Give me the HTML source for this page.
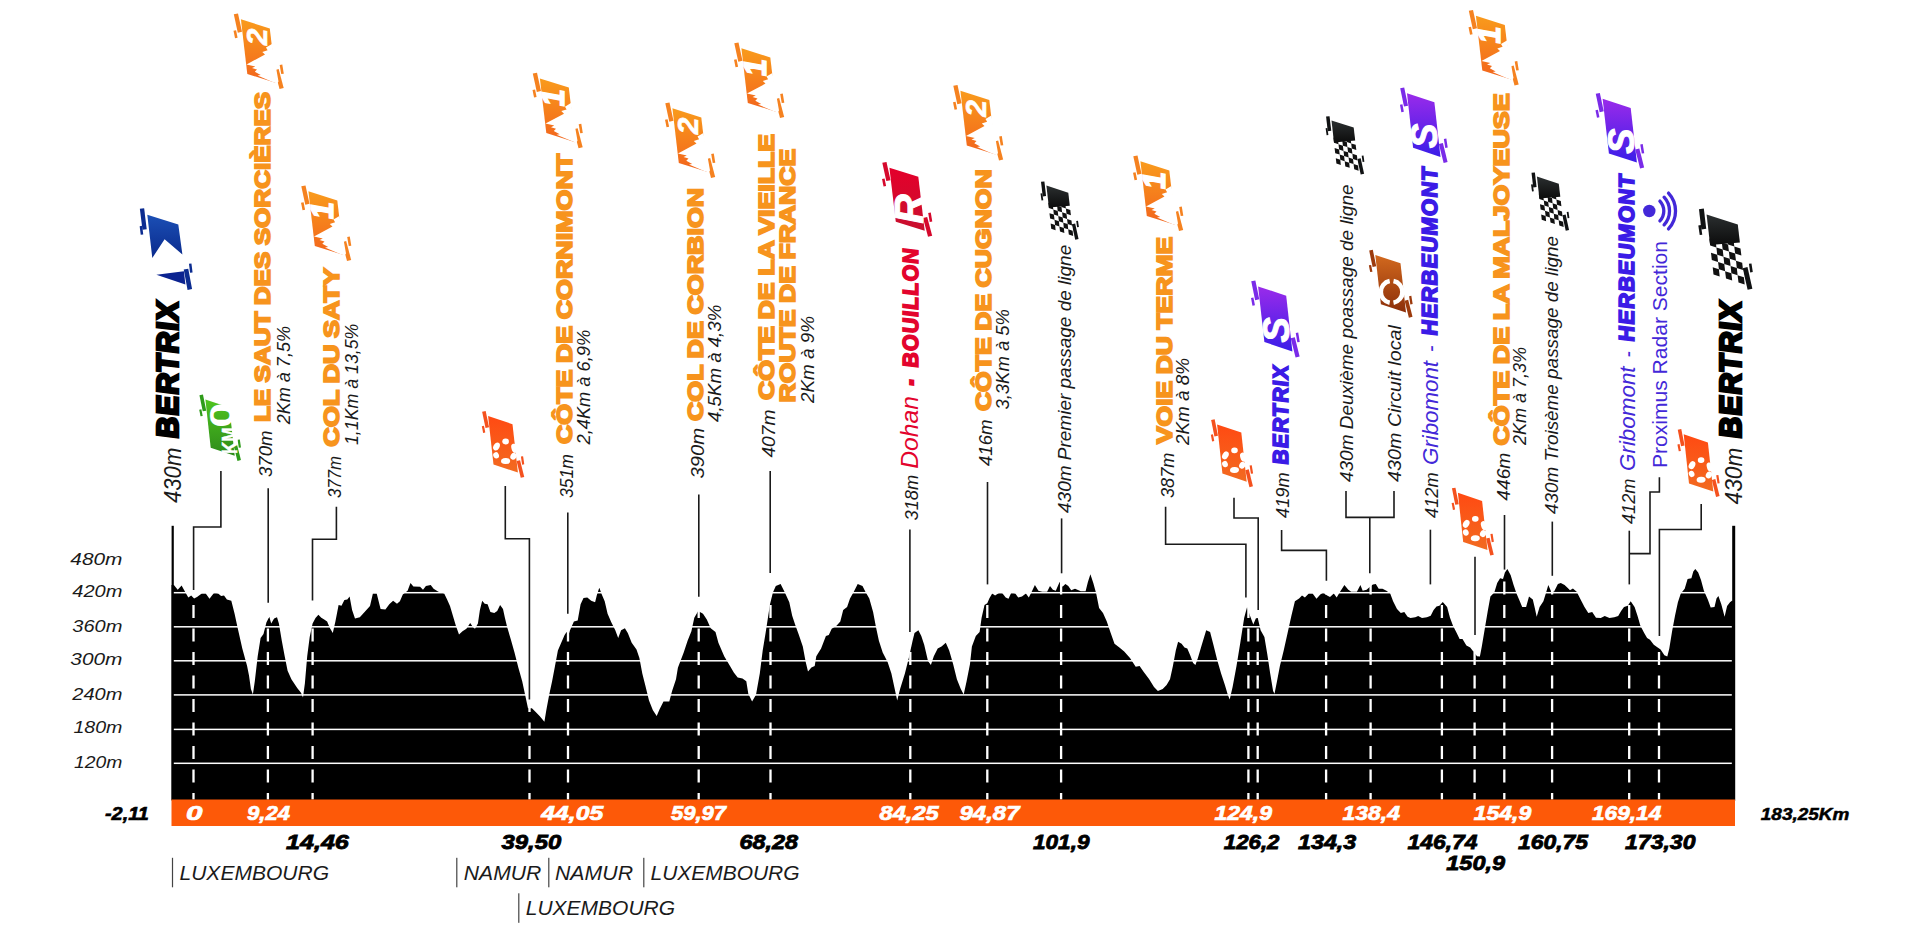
<!DOCTYPE html>
<html lang="fr"><head><meta charset="utf-8"><title>Profil - Bertrix / Bertrix 183,25 Km</title>
<style>html,body{margin:0;padding:0;background:#fff}body{width:1920px;height:934px;overflow:hidden}svg{display:block}text{font-family:'Liberation Sans','DejaVu Sans',sans-serif}</style>
</head><body>
<svg width="1920" height="934" viewBox="0 0 1920 934">
<defs>
<linearGradient id="gO" x1="0" y1="0" x2="0" y2="1"><stop offset="0" stop-color="#F99B1C"/><stop offset="1" stop-color="#F2641C"/></linearGradient>
<linearGradient id="gF" x1="0" y1="0" x2="0" y2="1"><stop offset="0" stop-color="#FF4A12"/><stop offset="1" stop-color="#F26B21"/></linearGradient>
<linearGradient id="gS" x1="0" y1="0" x2="0" y2="1"><stop offset="0" stop-color="#9A2BEA"/><stop offset="1" stop-color="#3A1DE8"/></linearGradient>
<linearGradient id="gR" x1="0" y1="0" x2="0" y2="1"><stop offset="0" stop-color="#E4002B"/><stop offset="1" stop-color="#C8102E"/></linearGradient>
<linearGradient id="gK" x1="0" y1="0" x2="0" y2="1"><stop offset="0" stop-color="#4FC41F"/><stop offset="1" stop-color="#2E8B1A"/></linearGradient>
<linearGradient id="gB" x1="0" y1="0" x2="0" y2="1"><stop offset="0" stop-color="#1B4FB5"/><stop offset="1" stop-color="#0A2A8C"/></linearGradient>
<linearGradient id="gC" x1="0" y1="0" x2="0" y2="1"><stop offset="0" stop-color="#D2691E"/><stop offset="1" stop-color="#8B2E0A"/></linearGradient>
<linearGradient id="gD" x1="0" y1="0" x2="0" y2="1"><stop offset="0" stop-color="#2b2f30"/><stop offset="1" stop-color="#0c0c0c"/></linearGradient>
</defs>
<path d="M171.5 800.0 L171.5 584.9 L173.9 584.9 L177.7 589.7 L181.6 585.5 L184.5 590.7 L188.3 597.4 L191.2 595.5 L194.1 598.4 L197.0 596.9 L201.8 593.6 L205.7 593.6 L209.5 598.8 L214.3 592.6 L218.2 593.6 L221.1 596.1 L224.0 595.5 L226.9 599.4 L231.3 600.7 L234.6 613.8 L237.5 627.3 L242.3 648.5 L247.1 665.9 L249.0 675.5 L250.9 689.0 L252.9 694.4 L254.8 681.3 L257.7 656.2 L260.6 637.9 L263.5 634.1 L266.4 622.5 L269.3 616.7 L271.2 623.5 L274.1 618.6 L277.0 617.3 L278.9 623.5 L281.8 640.8 L284.7 656.2 L287.6 670.7 L291.4 679.3 L297.2 688.0 L301.0 692.8 L303.0 697.6 L304.9 683.2 L307.2 656.2 L309.7 636.9 L312.6 623.5 L315.5 618.1 L318.4 614.8 L321.3 617.7 L324.2 619.6 L327.1 621.5 L330.0 628.3 L332.8 633.1 L335.4 621.5 L338.6 605.1 L341.5 605.7 L344.4 599.9 L347.3 599.4 L349.6 596.5 L352.1 610.0 L355.0 618.6 L359.8 617.3 L364.6 611.9 L370.0 606.1 L372.9 593.6 L376.7 593.6 L380.6 609.0 L385.4 609.6 L389.3 604.2 L393.1 600.7 L397.0 603.8 L399.9 601.3 L402.8 594.5 L407.6 590.7 L410.5 583.0 L413.4 586.4 L420.1 586.8 L423.0 589.7 L425.9 585.9 L430.7 584.9 L433.6 588.8 L438.4 591.7 L444.2 593.6 L447.1 599.4 L450.0 606.1 L452.9 615.7 L455.8 625.4 L459.0 634.6 L462.5 631.2 L466.4 628.8 L470.2 623.1 L473.1 627.3 L475.0 628.8 L477.9 623.5 L479.9 610.0 L482.2 600.7 L484.7 603.8 L487.6 604.2 L490.4 611.9 L494.3 612.9 L497.2 610.9 L500.1 605.1 L503.0 609.0 L504.9 617.7 L507.2 627.3 L510.7 638.9 L514.5 652.4 L518.4 667.8 L522.2 681.3 L525.1 694.8 L528.0 708.2 L531.9 708.2 L535.7 712.1 L539.6 716.0 L544.4 721.7 L546.3 710.2 L549.2 694.8 L552.1 681.3 L555.0 665.9 L557.9 650.4 L560.8 643.7 L564.6 635.0 L566.6 632.1 L568.5 635.0 L570.0 630.2 L573.9 621.5 L577.7 620.6 L580.6 604.2 L583.5 598.0 L587.3 597.4 L591.2 600.7 L595.1 602.3 L597.0 594.5 L599.3 587.8 L601.8 594.5 L604.7 601.3 L607.6 613.8 L611.4 622.5 L615.3 630.2 L618.2 637.9 L621.1 630.2 L624.9 628.3 L627.8 633.1 L631.7 642.7 L636.5 649.5 L639.4 658.1 L642.3 673.6 L645.2 685.1 L649.0 700.5 L652.9 710.2 L656.7 716.0 L659.6 709.2 L663.5 701.5 L669.3 701.5 L672.1 690.9 L676.0 679.3 L677.9 667.8 L683.7 652.4 L687.6 640.8 L691.4 631.2 L694.3 617.7 L698.2 610.9 L703.0 613.8 L706.8 619.6 L710.7 628.3 L715.5 632.1 L718.4 642.7 L724.2 656.2 L730.0 665.9 L733.8 672.6 L737.7 677.4 L742.5 678.4 L746.3 681.3 L748.3 693.8 L752.1 701.5 L756.0 694.8 L759.8 673.6 L762.7 650.4 L765.6 633.1 L770.0 604.2 L772.9 592.6 L775.8 585.9 L780.6 583.9 L784.5 591.7 L789.3 602.3 L792.2 615.7 L795.1 624.4 L798.9 635.0 L802.8 646.6 L805.7 662.0 L808.0 671.6 L811.4 667.4 L814.7 665.9 L816.3 656.2 L821.1 648.5 L825.9 636.0 L828.8 635.0 L831.7 628.8 L836.5 625.8 L840.3 621.5 L843.2 610.0 L847.1 607.1 L850.0 598.4 L853.8 591.7 L857.7 583.9 L862.5 585.9 L865.4 591.7 L869.3 598.4 L873.1 611.9 L876.0 627.3 L878.9 640.8 L882.7 652.4 L887.6 662.0 L891.4 673.6 L894.3 687.0 L897.2 700.5 L900.1 689.0 L904.9 673.6 L908.8 658.1 L912.6 640.8 L914.5 633.1 L918.4 630.2 L921.3 636.0 L924.2 644.7 L928.0 661.0 L930.9 664.9 L933.8 656.2 L937.7 648.5 L941.5 646.6 L945.8 642.7 L949.2 650.4 L953.1 663.9 L956.9 679.3 L960.8 689.0 L963.7 694.4 L966.6 681.3 L970.0 663.9 L971.9 646.6 L975.8 636.0 L979.6 632.1 L981.6 617.7 L984.5 605.1 L987.3 603.2 L989.3 598.4 L992.2 593.6 L995.1 595.5 L998.9 593.0 L1001.8 592.6 L1005.7 597.4 L1008.5 598.8 L1011.4 592.6 L1015.3 593.6 L1018.2 597.4 L1022.0 596.5 L1025.9 593.6 L1028.8 597.4 L1031.7 591.7 L1034.9 584.9 L1038.4 590.7 L1042.3 591.7 L1047.1 591.7 L1050.0 585.9 L1052.9 589.7 L1055.8 590.7 L1059.6 582.0 L1062.5 586.8 L1065.4 583.9 L1068.3 585.9 L1071.2 590.3 L1075.0 588.8 L1080.8 591.3 L1085.6 591.3 L1087.9 582.0 L1090.4 574.3 L1093.3 583.0 L1096.2 593.6 L1099.1 608.0 L1103.0 612.9 L1106.8 621.5 L1110.7 633.1 L1114.5 643.7 L1119.4 647.5 L1124.2 651.4 L1130.0 658.1 L1135.7 666.8 L1139.6 665.9 L1143.4 671.6 L1149.2 679.3 L1154.0 687.0 L1157.9 690.9 L1162.7 689.0 L1166.6 685.1 L1170.0 679.3 L1172.9 665.9 L1175.8 650.4 L1178.1 641.8 L1181.6 643.7 L1184.5 647.5 L1187.3 648.5 L1190.2 655.3 L1193.1 663.0 L1195.4 664.9 L1197.9 658.1 L1201.8 644.7 L1206.2 630.2 L1210.1 632.1 L1213.4 644.7 L1217.2 660.1 L1221.1 673.6 L1224.9 685.1 L1227.8 694.8 L1229.7 699.6 L1232.6 687.0 L1236.5 665.9 L1240.3 642.7 L1244.2 617.7 L1247.1 607.1 L1250.0 615.7 L1253.3 624.4 L1255.8 618.6 L1257.7 617.7 L1260.6 630.2 L1264.4 636.9 L1267.3 654.3 L1270.2 673.6 L1273.1 690.9 L1274.5 693.8 L1277.0 681.3 L1279.9 665.9 L1283.7 650.4 L1287.6 633.1 L1291.4 615.7 L1294.9 601.3 L1299.1 598.4 L1302.0 595.5 L1304.9 597.4 L1308.8 593.6 L1312.6 593.6 L1316.5 598.8 L1320.3 594.5 L1323.2 592.6 L1327.1 595.5 L1330.0 596.9 L1333.8 593.6 L1336.7 597.4 L1339.6 592.6 L1344.4 584.9 L1348.3 589.7 L1351.2 591.7 L1356.9 591.7 L1360.4 584.9 L1362.7 590.7 L1366.6 589.7 L1370.0 586.8 L1372.9 584.5 L1375.8 583.9 L1378.7 588.8 L1382.5 588.8 L1386.4 590.7 L1390.2 593.6 L1393.1 601.3 L1397.0 609.0 L1400.8 612.9 L1404.3 611.9 L1407.6 616.7 L1410.5 618.1 L1415.3 617.3 L1418.2 616.1 L1422.0 618.1 L1426.9 617.3 L1430.7 615.7 L1433.6 610.0 L1436.5 606.5 L1439.4 605.7 L1442.8 601.9 L1447.1 607.1 L1450.0 617.7 L1452.9 625.4 L1456.7 633.1 L1459.6 638.9 L1462.5 638.9 L1466.4 645.6 L1470.2 647.5 L1474.1 652.4 L1477.0 656.2 L1479.9 656.6 L1481.8 646.6 L1484.7 629.2 L1487.6 611.9 L1490.4 596.5 L1494.3 592.6 L1497.2 583.0 L1500.1 578.2 L1503.0 579.1 L1504.9 572.4 L1507.4 569.1 L1510.7 575.3 L1513.6 584.9 L1516.5 593.6 L1519.4 600.3 L1522.2 607.1 L1526.1 607.1 L1529.0 596.5 L1532.8 599.4 L1534.8 608.0 L1536.7 616.7 L1539.6 607.1 L1543.4 601.3 L1545.8 593.6 L1548.3 584.9 L1550.8 590.7 L1554.0 591.7 L1557.9 583.9 L1560.8 583.0 L1564.6 584.9 L1567.5 587.8 L1570.0 590.3 L1572.9 588.4 L1576.7 591.7 L1580.6 599.4 L1584.5 607.1 L1588.3 612.9 L1592.2 611.9 L1596.0 617.7 L1600.8 618.1 L1604.7 616.1 L1609.5 618.1 L1614.3 617.3 L1618.2 616.1 L1621.1 610.9 L1624.0 607.1 L1627.8 605.7 L1630.7 601.3 L1634.6 607.1 L1637.5 615.7 L1640.3 625.4 L1644.2 633.1 L1647.1 637.9 L1650.0 639.8 L1653.8 644.7 L1657.7 647.5 L1660.6 649.5 L1664.4 655.3 L1667.3 656.6 L1669.3 648.5 L1672.1 631.2 L1675.0 615.7 L1677.9 602.3 L1680.8 593.6 L1684.7 588.8 L1687.6 579.1 L1691.4 578.2 L1693.3 571.4 L1695.3 569.1 L1698.2 572.4 L1701.0 580.1 L1703.9 590.7 L1707.8 599.4 L1710.7 607.6 L1714.5 607.1 L1716.5 598.4 L1718.4 596.1 L1721.3 604.2 L1724.6 616.7 L1727.1 606.1 L1730.0 602.3 L1731.9 600.7 L1735.0 600.7 L1735.0 800.0 Z" fill="#000"/>
<rect x="171.6" y="525.8" width="2.2" height="275" fill="#000"/>
<rect x="1732.2" y="525.8" width="3.0" height="275" fill="#000"/>
<rect x="173.8" y="591.95" width="1558.0" height="1.5" fill="#fff"/>
<rect x="173.8" y="626.05" width="1558.0" height="1.5" fill="#fff"/>
<rect x="173.8" y="660.05" width="1558.0" height="1.5" fill="#fff"/>
<rect x="173.8" y="694.15" width="1558.0" height="1.5" fill="#fff"/>
<rect x="173.8" y="728.65" width="1558.0" height="1.5" fill="#fff"/>
<rect x="173.8" y="762.55" width="1558.0" height="1.5" fill="#fff"/>
<path d="M193.5 799.5 L193.5 560" stroke="#fff" stroke-width="2.3" stroke-dasharray="13 10.5" stroke-dashoffset="6.5" fill="none"/>
<path d="M267.9 799.5 L267.9 560" stroke="#fff" stroke-width="2.3" stroke-dasharray="13 10.5" stroke-dashoffset="6.5" fill="none"/>
<path d="M312.6 799.5 L312.6 560" stroke="#fff" stroke-width="2.3" stroke-dasharray="13 10.5" stroke-dashoffset="6.5" fill="none"/>
<path d="M529.5 799.5 L529.5 560" stroke="#fff" stroke-width="2.3" stroke-dasharray="13 10.5" stroke-dashoffset="6.5" fill="none"/>
<path d="M568.0 799.5 L568.0 560" stroke="#fff" stroke-width="2.3" stroke-dasharray="13 10.5" stroke-dashoffset="6.5" fill="none"/>
<path d="M698.7 799.5 L698.7 560" stroke="#fff" stroke-width="2.3" stroke-dasharray="13 10.5" stroke-dashoffset="6.5" fill="none"/>
<path d="M770.5 799.5 L770.5 560" stroke="#fff" stroke-width="2.3" stroke-dasharray="13 10.5" stroke-dashoffset="6.5" fill="none"/>
<path d="M910.3 799.5 L910.3 560" stroke="#fff" stroke-width="2.3" stroke-dasharray="13 10.5" stroke-dashoffset="6.5" fill="none"/>
<path d="M987.3 799.5 L987.3 560" stroke="#fff" stroke-width="2.3" stroke-dasharray="13 10.5" stroke-dashoffset="6.5" fill="none"/>
<path d="M1061.1 799.5 L1061.1 560" stroke="#fff" stroke-width="2.3" stroke-dasharray="13 10.5" stroke-dashoffset="6.5" fill="none"/>
<path d="M1248.4 799.5 L1248.4 560" stroke="#fff" stroke-width="2.3" stroke-dasharray="13 10.5" stroke-dashoffset="6.5" fill="none"/>
<path d="M1257.7 799.5 L1257.7 560" stroke="#fff" stroke-width="2.3" stroke-dasharray="13 10.5" stroke-dashoffset="6.5" fill="none"/>
<path d="M1326.1 799.5 L1326.1 560" stroke="#fff" stroke-width="2.3" stroke-dasharray="13 10.5" stroke-dashoffset="6.5" fill="none"/>
<path d="M1370.6 799.5 L1370.6 560" stroke="#fff" stroke-width="2.3" stroke-dasharray="13 10.5" stroke-dashoffset="6.5" fill="none"/>
<path d="M1441.9 799.5 L1441.9 560" stroke="#fff" stroke-width="2.3" stroke-dasharray="13 10.5" stroke-dashoffset="6.5" fill="none"/>
<path d="M1474.6 799.5 L1474.6 560" stroke="#fff" stroke-width="2.3" stroke-dasharray="13 10.5" stroke-dashoffset="6.5" fill="none"/>
<path d="M1504.3 799.5 L1504.3 560" stroke="#fff" stroke-width="2.3" stroke-dasharray="13 10.5" stroke-dashoffset="6.5" fill="none"/>
<path d="M1552.1 799.5 L1552.1 560" stroke="#fff" stroke-width="2.3" stroke-dasharray="13 10.5" stroke-dashoffset="6.5" fill="none"/>
<path d="M1629.2 799.5 L1629.2 560" stroke="#fff" stroke-width="2.3" stroke-dasharray="13 10.5" stroke-dashoffset="6.5" fill="none"/>
<path d="M1659.0 799.5 L1659.0 560" stroke="#fff" stroke-width="2.3" stroke-dasharray="13 10.5" stroke-dashoffset="6.5" fill="none"/>
<rect x="171.5" y="799.5" width="1563.5" height="26.5" fill="#FD5908"/>
<text x="70.3" y="565.2" font-size="17.3" font-weight="normal" font-style="italic" fill="#1a1a1a" textLength="52.1" lengthAdjust="spacingAndGlyphs">480m</text>
<text x="72.3" y="597.2" font-size="17.3" font-weight="normal" font-style="italic" fill="#1a1a1a" textLength="50.1" lengthAdjust="spacingAndGlyphs">420m</text>
<text x="72.3" y="631.7" font-size="17.3" font-weight="normal" font-style="italic" fill="#1a1a1a" textLength="50.1" lengthAdjust="spacingAndGlyphs">360m</text>
<text x="70.3" y="665.4" font-size="17.3" font-weight="normal" font-style="italic" fill="#1a1a1a" textLength="52.1" lengthAdjust="spacingAndGlyphs">300m</text>
<text x="72.3" y="700.0" font-size="17.3" font-weight="normal" font-style="italic" fill="#1a1a1a" textLength="50.1" lengthAdjust="spacingAndGlyphs">240m</text>
<text x="73.4" y="733.2" font-size="17.3" font-weight="normal" font-style="italic" fill="#1a1a1a" textLength="49.0" lengthAdjust="spacingAndGlyphs">180m</text>
<text x="74.1" y="767.6" font-size="17.3" font-weight="normal" font-style="italic" fill="#1a1a1a" textLength="48.3" lengthAdjust="spacingAndGlyphs">120m</text>
<text x="186.0" y="820.3" font-size="19.5" font-weight="bold" font-style="italic" fill="#fff" stroke="#fff" stroke-width="0.7" stroke-linejoin="miter" stroke-miterlimit="2.5" textLength="16.5" lengthAdjust="spacingAndGlyphs">0</text>
<text x="247.0" y="820.3" font-size="19.5" font-weight="bold" font-style="italic" fill="#fff" stroke="#fff" stroke-width="0.7" stroke-linejoin="miter" stroke-miterlimit="2.5" textLength="43.0" lengthAdjust="spacingAndGlyphs">9,24</text>
<text x="541.3" y="820.3" font-size="19.5" font-weight="bold" font-style="italic" fill="#fff" stroke="#fff" stroke-width="0.7" stroke-linejoin="miter" stroke-miterlimit="2.5" textLength="62.0" lengthAdjust="spacingAndGlyphs">44,05</text>
<text x="671.0" y="820.3" font-size="19.5" font-weight="bold" font-style="italic" fill="#fff" stroke="#fff" stroke-width="0.7" stroke-linejoin="miter" stroke-miterlimit="2.5" textLength="55.0" lengthAdjust="spacingAndGlyphs">59,97</text>
<text x="879.5" y="820.3" font-size="19.5" font-weight="bold" font-style="italic" fill="#fff" stroke="#fff" stroke-width="0.7" stroke-linejoin="miter" stroke-miterlimit="2.5" textLength="59.3" lengthAdjust="spacingAndGlyphs">84,25</text>
<text x="959.5" y="820.3" font-size="19.5" font-weight="bold" font-style="italic" fill="#fff" stroke="#fff" stroke-width="0.7" stroke-linejoin="miter" stroke-miterlimit="2.5" textLength="60.0" lengthAdjust="spacingAndGlyphs">94,87</text>
<text x="1214.5" y="820.3" font-size="19.5" font-weight="bold" font-style="italic" fill="#fff" stroke="#fff" stroke-width="0.7" stroke-linejoin="miter" stroke-miterlimit="2.5" textLength="57.5" lengthAdjust="spacingAndGlyphs">124,9</text>
<text x="1342.5" y="820.3" font-size="19.5" font-weight="bold" font-style="italic" fill="#fff" stroke="#fff" stroke-width="0.7" stroke-linejoin="miter" stroke-miterlimit="2.5" textLength="57.5" lengthAdjust="spacingAndGlyphs">138,4</text>
<text x="1473.8" y="820.3" font-size="19.5" font-weight="bold" font-style="italic" fill="#fff" stroke="#fff" stroke-width="0.7" stroke-linejoin="miter" stroke-miterlimit="2.5" textLength="57.5" lengthAdjust="spacingAndGlyphs">154,9</text>
<text x="1592.0" y="820.3" font-size="19.5" font-weight="bold" font-style="italic" fill="#fff" stroke="#fff" stroke-width="0.7" stroke-linejoin="miter" stroke-miterlimit="2.5" textLength="69.3" lengthAdjust="spacingAndGlyphs">169,14</text>
<text x="286.0" y="849.3" font-size="20" font-weight="bold" font-style="italic" fill="#000" stroke="#000" stroke-width="0.8" stroke-linejoin="miter" stroke-miterlimit="2.5" textLength="62.8" lengthAdjust="spacingAndGlyphs">14,46</text>
<text x="501.5" y="849.3" font-size="20" font-weight="bold" font-style="italic" fill="#000" stroke="#000" stroke-width="0.8" stroke-linejoin="miter" stroke-miterlimit="2.5" textLength="59.8" lengthAdjust="spacingAndGlyphs">39,50</text>
<text x="739.5" y="849.3" font-size="20" font-weight="bold" font-style="italic" fill="#000" stroke="#000" stroke-width="0.8" stroke-linejoin="miter" stroke-miterlimit="2.5" textLength="58.5" lengthAdjust="spacingAndGlyphs">68,28</text>
<text x="1033.0" y="849.3" font-size="20" font-weight="bold" font-style="italic" fill="#000" stroke="#000" stroke-width="0.8" stroke-linejoin="miter" stroke-miterlimit="2.5" textLength="56.5" lengthAdjust="spacingAndGlyphs">101,9</text>
<text x="1223.8" y="849.3" font-size="20" font-weight="bold" font-style="italic" fill="#000" stroke="#000" stroke-width="0.8" stroke-linejoin="miter" stroke-miterlimit="2.5" textLength="55.7" lengthAdjust="spacingAndGlyphs">126,2</text>
<text x="1298.0" y="849.3" font-size="20" font-weight="bold" font-style="italic" fill="#000" stroke="#000" stroke-width="0.8" stroke-linejoin="miter" stroke-miterlimit="2.5" textLength="58.3" lengthAdjust="spacingAndGlyphs">134,3</text>
<text x="1407.5" y="849.3" font-size="20" font-weight="bold" font-style="italic" fill="#000" stroke="#000" stroke-width="0.8" stroke-linejoin="miter" stroke-miterlimit="2.5" textLength="70.0" lengthAdjust="spacingAndGlyphs">146,74</text>
<text x="1518.0" y="849.3" font-size="20" font-weight="bold" font-style="italic" fill="#000" stroke="#000" stroke-width="0.8" stroke-linejoin="miter" stroke-miterlimit="2.5" textLength="70.0" lengthAdjust="spacingAndGlyphs">160,75</text>
<text x="1625.0" y="849.3" font-size="20" font-weight="bold" font-style="italic" fill="#000" stroke="#000" stroke-width="0.8" stroke-linejoin="miter" stroke-miterlimit="2.5" textLength="70.5" lengthAdjust="spacingAndGlyphs">173,30</text>
<text x="1446.3" y="869.6" font-size="20" font-weight="bold" font-style="italic" fill="#000" stroke="#000" stroke-width="0.8" stroke-linejoin="miter" stroke-miterlimit="2.5" textLength="58.7" lengthAdjust="spacingAndGlyphs">150,9</text>
<text x="105.0" y="820.4" font-size="18" font-weight="bold" font-style="italic" fill="#000" stroke="#000" stroke-width="0.6" stroke-linejoin="miter" stroke-miterlimit="2.5" textLength="43.8" lengthAdjust="spacingAndGlyphs">-2,11</text>
<text x="1760.8" y="820.0" font-size="17" font-weight="bold" font-style="italic" fill="#000" stroke="#000" stroke-width="0.5" stroke-linejoin="miter" stroke-miterlimit="2.5" textLength="88.5" lengthAdjust="spacingAndGlyphs">183,25Km</text>
<rect x="171.9" y="857.8" width="1.2" height="29.5" fill="#444"/>
<text x="179.5" y="879.8" font-size="21" font-weight="normal" font-style="italic" fill="#1a1a1a" textLength="149.5" lengthAdjust="spacingAndGlyphs">LUXEMBOURG</text>
<rect x="456.2" y="857.8" width="1.2" height="29.5" fill="#444"/>
<text x="463.8" y="879.8" font-size="21" font-weight="normal" font-style="italic" fill="#1a1a1a" textLength="77.5" lengthAdjust="spacingAndGlyphs">NAMUR</text>
<rect x="548.2" y="857.8" width="1.2" height="29.5" fill="#444"/>
<text x="555.0" y="879.8" font-size="21" font-weight="normal" font-style="italic" fill="#1a1a1a" textLength="78.0" lengthAdjust="spacingAndGlyphs">NAMUR</text>
<rect x="643.2" y="857.8" width="1.2" height="29.5" fill="#444"/>
<text x="650.5" y="879.8" font-size="21" font-weight="normal" font-style="italic" fill="#1a1a1a" textLength="149.0" lengthAdjust="spacingAndGlyphs">LUXEMBOURG</text>
<rect x="518.2" y="893.3" width="1.2" height="29.5" fill="#444"/>
<text x="525.8" y="915.3" font-size="21" font-weight="normal" font-style="italic" fill="#1a1a1a" textLength="149.2" lengthAdjust="spacingAndGlyphs">LUXEMBOURG</text>
<path d="M220.9 471.0 L220.9 527.0 L193.6 527.0 L193.6 590.0" fill="none" stroke="#1a1a1a" stroke-width="1.6"/>
<path d="M268.2 488.3 L268.2 602.8" fill="none" stroke="#1a1a1a" stroke-width="1.6"/>
<path d="M336.4 506.8 L336.4 539.3 L312.5 539.3 L312.5 600.4" fill="none" stroke="#1a1a1a" stroke-width="1.6"/>
<path d="M505.3 485.9 L505.3 538.8 L529.4 538.8 L529.4 699.5" fill="none" stroke="#1a1a1a" stroke-width="1.6"/>
<path d="M567.8 512.5 L567.8 613.8" fill="none" stroke="#1a1a1a" stroke-width="1.6"/>
<path d="M698.8 494.5 L698.8 596.7" fill="none" stroke="#1a1a1a" stroke-width="1.6"/>
<path d="M770.2 471.0 L770.2 573.0" fill="none" stroke="#1a1a1a" stroke-width="1.6"/>
<path d="M909.9 529.5 L909.9 632.0" fill="none" stroke="#1a1a1a" stroke-width="1.6"/>
<path d="M987.5 482.0 L987.5 584.4" fill="none" stroke="#1a1a1a" stroke-width="1.6"/>
<path d="M1061.6 518.4 L1061.6 573.3" fill="none" stroke="#1a1a1a" stroke-width="1.6"/>
<path d="M1165.6 506.8 L1165.6 544.3 L1245.9 544.3 L1245.9 597.4" fill="none" stroke="#1a1a1a" stroke-width="1.6"/>
<path d="M1234.0 497.7 L1234.0 518.0 L1258.2 518.0 L1258.2 610.0" fill="none" stroke="#1a1a1a" stroke-width="1.6"/>
<path d="M1281.6 530.0 L1281.6 550.4 L1326.4 550.4 L1326.4 580.7" fill="none" stroke="#1a1a1a" stroke-width="1.6"/>
<path d="M1346.0 491.0 L1346.0 517.4 L1394.0 517.4 L1394.0 491.0" fill="none" stroke="#1a1a1a" stroke-width="1.6"/>
<path d="M1369.8 517.4 L1369.8 573.3" fill="none" stroke="#1a1a1a" stroke-width="1.6"/>
<path d="M1430.4 529.7 L1430.4 584.4" fill="none" stroke="#1a1a1a" stroke-width="1.6"/>
<path d="M1475.0 556.8 L1475.0 635.0" fill="none" stroke="#1a1a1a" stroke-width="1.6"/>
<path d="M1504.5 515.0 L1504.5 569.6" fill="none" stroke="#1a1a1a" stroke-width="1.6"/>
<path d="M1552.3 521.6 L1552.3 575.8" fill="none" stroke="#1a1a1a" stroke-width="1.6"/>
<path d="M1629.3 530.7 L1629.3 584.4" fill="none" stroke="#1a1a1a" stroke-width="1.6"/>
<path d="M1629.3 553.6 L1650.0 553.6 L1650.0 492.0 L1659.4 492.0 L1659.4 477.3" fill="none" stroke="#1a1a1a" stroke-width="1.6"/>
<path d="M1701.2 503.9 L1701.2 529.5 L1659.4 529.5 L1659.4 636.0" fill="none" stroke="#1a1a1a" stroke-width="1.6"/>
<text transform="translate(180.5,503.0) rotate(-90)" font-size="23.5" font-weight="normal" font-style="italic" fill="#1a1a1a" textLength="55.3" lengthAdjust="spacingAndGlyphs">430m</text>
<text transform="translate(178.3,437.7) rotate(-90) skewX(4)" font-size="30.6" font-weight="bold" font-style="italic" fill="#000" stroke="#000" stroke-width="2.6" stroke-linejoin="miter" stroke-miterlimit="2.5" textLength="138.1" lengthAdjust="spacingAndGlyphs" letter-spacing="1.2">BERTRIX</text>
<text transform="translate(271.5,477.0) rotate(-90)" font-size="18.3" font-weight="normal" font-style="italic" fill="#1a1a1a" textLength="46.5" lengthAdjust="spacingAndGlyphs">370m</text>
<text transform="translate(270.1,422.1) rotate(-90)" font-size="22.3" font-weight="bold" font-style="normal" fill="#F7941D" stroke="#F7941D" stroke-width="1.7" stroke-linejoin="miter" stroke-miterlimit="2.5" textLength="330.3" lengthAdjust="spacingAndGlyphs" word-spacing="-0.8">LE SAUT DES SORCIÈRES</text>
<text transform="translate(289.5,424.3) rotate(-90)" font-size="18.3" font-weight="normal" font-style="italic" fill="#1a1a1a" textLength="98.3" lengthAdjust="spacingAndGlyphs">2Km à 7,5%</text>
<text transform="translate(340.5,498.0) rotate(-90)" font-size="18.3" font-weight="normal" font-style="italic" fill="#1a1a1a" textLength="42.0" lengthAdjust="spacingAndGlyphs">377m</text>
<text transform="translate(339.1,446.8) rotate(-90)" font-size="22.3" font-weight="bold" font-style="normal" fill="#F7941D" stroke="#F7941D" stroke-width="1.7" stroke-linejoin="miter" stroke-miterlimit="2.5" textLength="179.0" lengthAdjust="spacingAndGlyphs" word-spacing="-0.8">COL DU SATY</text>
<text transform="translate(357.5,445.0) rotate(-90)" font-size="18.3" font-weight="normal" font-style="italic" fill="#1a1a1a" textLength="121.4" lengthAdjust="spacingAndGlyphs">1,1Km à 13,5%</text>
<text transform="translate(572.8,498.0) rotate(-90)" font-size="18.3" font-weight="normal" font-style="italic" fill="#1a1a1a" textLength="44.0" lengthAdjust="spacingAndGlyphs">351m</text>
<text transform="translate(572.1,444.1) rotate(-90)" font-size="22.3" font-weight="bold" font-style="normal" fill="#F7941D" stroke="#F7941D" stroke-width="1.7" stroke-linejoin="miter" stroke-miterlimit="2.5" textLength="290.3" lengthAdjust="spacingAndGlyphs" word-spacing="-0.8">CÔTE DE CORNIMONT</text>
<text transform="translate(590.0,444.5) rotate(-90)" font-size="18.3" font-weight="normal" font-style="italic" fill="#1a1a1a" textLength="114.7" lengthAdjust="spacingAndGlyphs">2,4Km à 6,9%</text>
<text transform="translate(703.5,478.5) rotate(-90)" font-size="18.3" font-weight="normal" font-style="italic" fill="#1a1a1a" textLength="50.5" lengthAdjust="spacingAndGlyphs">390m</text>
<text transform="translate(702.6,421.1) rotate(-90)" font-size="22.3" font-weight="bold" font-style="normal" fill="#F7941D" stroke="#F7941D" stroke-width="1.7" stroke-linejoin="miter" stroke-miterlimit="2.5" textLength="233.3" lengthAdjust="spacingAndGlyphs" word-spacing="-0.8">COL DE CORBION</text>
<text transform="translate(720.5,422.0) rotate(-90)" font-size="18.3" font-weight="normal" font-style="italic" fill="#1a1a1a" textLength="117.3" lengthAdjust="spacingAndGlyphs">4,5Km à 4,3%</text>
<text transform="translate(774.8,457.6) rotate(-90)" font-size="18.3" font-weight="normal" font-style="italic" fill="#1a1a1a" textLength="48.1" lengthAdjust="spacingAndGlyphs">407m</text>
<text transform="translate(774.1,400.1) rotate(-90)" font-size="22.3" font-weight="bold" font-style="normal" fill="#F7941D" stroke="#F7941D" stroke-width="1.7" stroke-linejoin="miter" stroke-miterlimit="2.5" textLength="266.3" lengthAdjust="spacingAndGlyphs" word-spacing="-0.8">CÔTE DE LA VIEILLE</text>
<text transform="translate(795.1,402.5) rotate(-90)" font-size="22.3" font-weight="bold" font-style="normal" fill="#F7941D" stroke="#F7941D" stroke-width="1.7" stroke-linejoin="miter" stroke-miterlimit="2.5" textLength="253.7" lengthAdjust="spacingAndGlyphs" word-spacing="-0.8">ROUTE DE FRANCE</text>
<text transform="translate(814.0,403.0) rotate(-90)" font-size="18.3" font-weight="normal" font-style="italic" fill="#1a1a1a" textLength="87.0" lengthAdjust="spacingAndGlyphs">2Km à 9%</text>
<text transform="translate(917.8,520.4) rotate(-90)" font-size="18.3" font-weight="normal" font-style="italic" fill="#1a1a1a" textLength="45.6" lengthAdjust="spacingAndGlyphs">318m</text>
<text transform="translate(918.3,468.7) rotate(-90)" font-size="24.5" font-weight="normal" font-style="italic" fill="#E3042D" textLength="72.7" lengthAdjust="spacingAndGlyphs">Dohan</text>
<text transform="translate(916.8,385.2) rotate(-90)" font-size="22" font-weight="bold" font-style="italic" fill="#E3042D" stroke="#E3042D" stroke-width="2.6" stroke-linejoin="miter" stroke-miterlimit="2.5" textLength="5.6" lengthAdjust="spacingAndGlyphs">-</text>
<text transform="translate(917.5,367.2) rotate(-90) skewX(4)" font-size="21.8" font-weight="bold" font-style="italic" fill="#E3042D" stroke="#E3042D" stroke-width="1.6" stroke-linejoin="miter" stroke-miterlimit="2.5" textLength="120.3" lengthAdjust="spacingAndGlyphs" word-spacing="-0.8" letter-spacing="1.2">BOUILLON</text>
<text transform="translate(991.8,466.0) rotate(-90)" font-size="18.3" font-weight="normal" font-style="italic" fill="#1a1a1a" textLength="46.6" lengthAdjust="spacingAndGlyphs">416m</text>
<text transform="translate(991.1,411.1) rotate(-90)" font-size="22.3" font-weight="bold" font-style="normal" fill="#F7941D" stroke="#F7941D" stroke-width="1.7" stroke-linejoin="miter" stroke-miterlimit="2.5" textLength="241.8" lengthAdjust="spacingAndGlyphs" word-spacing="-0.8">CÔTE DE CUGNON</text>
<text transform="translate(1008.5,409.6) rotate(-90)" font-size="18.3" font-weight="normal" font-style="italic" fill="#1a1a1a" textLength="100.6" lengthAdjust="spacingAndGlyphs">3,3Km à 5%</text>
<text transform="translate(1070.5,513.0) rotate(-90)" font-size="18.3" font-weight="normal" font-style="italic" fill="#1a1a1a" textLength="268.2" lengthAdjust="spacingAndGlyphs">430m Premier passage de ligne</text>
<text transform="translate(1173.5,498.0) rotate(-90)" font-size="18.3" font-weight="normal" font-style="italic" fill="#1a1a1a" textLength="45.3" lengthAdjust="spacingAndGlyphs">387m</text>
<text transform="translate(1171.7,444.1) rotate(-90)" font-size="22.3" font-weight="bold" font-style="normal" fill="#F7941D" stroke="#F7941D" stroke-width="1.7" stroke-linejoin="miter" stroke-miterlimit="2.5" textLength="207.3" lengthAdjust="spacingAndGlyphs" word-spacing="-0.8">VOIE DU TERME</text>
<text transform="translate(1189.3,445.0) rotate(-90)" font-size="18.3" font-weight="normal" font-style="italic" fill="#1a1a1a" textLength="87.0" lengthAdjust="spacingAndGlyphs">2Km à 8%</text>
<text transform="translate(1288.8,518.0) rotate(-90)" font-size="18.3" font-weight="normal" font-style="italic" fill="#1a1a1a" textLength="45.6" lengthAdjust="spacingAndGlyphs">419m</text>
<text transform="translate(1288.2,464.2) rotate(-90) skewX(4)" font-size="21.8" font-weight="bold" font-style="italic" fill="#3B1BE6" stroke="#3B1BE6" stroke-width="1.6" stroke-linejoin="miter" stroke-miterlimit="2.5" textLength="100.6" lengthAdjust="spacingAndGlyphs" word-spacing="-0.8" letter-spacing="1.2">BERTRIX</text>
<text transform="translate(1353.3,482.0) rotate(-90)" font-size="18.3" font-weight="normal" font-style="italic" fill="#1a1a1a" textLength="297.5" lengthAdjust="spacingAndGlyphs">430m Deuxième poassage de ligne</text>
<text transform="translate(1400.5,482.0) rotate(-90)" font-size="18.3" font-weight="normal" font-style="italic" fill="#1a1a1a" textLength="157.0" lengthAdjust="spacingAndGlyphs">430m Circuit local</text>
<text transform="translate(1437.5,518.0) rotate(-90)" font-size="18.3" font-weight="normal" font-style="italic" fill="#1a1a1a" textLength="45.6" lengthAdjust="spacingAndGlyphs">412m</text>
<text transform="translate(1437.8,465.0) rotate(-90)" font-size="22" font-weight="normal" font-style="italic" fill="#4328D8" textLength="104.0" lengthAdjust="spacingAndGlyphs">Gribomont</text>
<text transform="translate(1437.8,351.9) rotate(-90)" font-size="22" font-weight="normal" font-style="italic" fill="#4328D8" textLength="6.4" lengthAdjust="spacingAndGlyphs">-</text>
<text transform="translate(1437.0,335.2) rotate(-90) skewX(4)" font-size="21.8" font-weight="bold" font-style="italic" fill="#3B1BE6" stroke="#3B1BE6" stroke-width="1.6" stroke-linejoin="miter" stroke-miterlimit="2.5" textLength="169.6" lengthAdjust="spacingAndGlyphs" word-spacing="-0.8" letter-spacing="1.2">HERBEUMONT</text>
<text transform="translate(1509.8,500.7) rotate(-90)" font-size="18.3" font-weight="normal" font-style="italic" fill="#1a1a1a" textLength="48.0" lengthAdjust="spacingAndGlyphs">446m</text>
<text transform="translate(1508.7,445.6) rotate(-90)" font-size="22.3" font-weight="bold" font-style="normal" fill="#F7941D" stroke="#F7941D" stroke-width="1.7" stroke-linejoin="miter" stroke-miterlimit="2.5" textLength="352.4" lengthAdjust="spacingAndGlyphs" word-spacing="-0.8">CÔTE DE LA MALJOYEUSE</text>
<text transform="translate(1525.5,445.0) rotate(-90)" font-size="18.3" font-weight="normal" font-style="italic" fill="#1a1a1a" textLength="98.0" lengthAdjust="spacingAndGlyphs">2Km à 7,3%</text>
<text transform="translate(1557.8,514.0) rotate(-90)" font-size="18.3" font-weight="normal" font-style="italic" fill="#1a1a1a" textLength="278.0" lengthAdjust="spacingAndGlyphs">430m Troisème passage de ligne</text>
<text transform="translate(1634.5,524.0) rotate(-90)" font-size="18.3" font-weight="normal" font-style="italic" fill="#1a1a1a" textLength="45.5" lengthAdjust="spacingAndGlyphs">412m</text>
<text transform="translate(1634.5,471.0) rotate(-90)" font-size="22" font-weight="normal" font-style="italic" fill="#4328D8" textLength="104.6" lengthAdjust="spacingAndGlyphs">Gribomont</text>
<text transform="translate(1634.5,357.4) rotate(-90)" font-size="22" font-weight="normal" font-style="italic" fill="#4328D8" textLength="6.2" lengthAdjust="spacingAndGlyphs">-</text>
<text transform="translate(1633.9,341.2) rotate(-90) skewX(4)" font-size="21.8" font-weight="bold" font-style="italic" fill="#3B1BE6" stroke="#3B1BE6" stroke-width="1.6" stroke-linejoin="miter" stroke-miterlimit="2.5" textLength="168.2" lengthAdjust="spacingAndGlyphs" word-spacing="-0.8" letter-spacing="1.2">HERBEUMONT</text>
<text transform="translate(1666.8,468.0) rotate(-90)" font-size="21" font-weight="normal" font-style="normal" fill="#4328D8" textLength="227.0" lengthAdjust="spacingAndGlyphs">Proximus Radar Section</text>
<text transform="translate(1741.9,504.4) rotate(-90)" font-size="23.5" font-weight="normal" font-style="italic" fill="#1a1a1a" textLength="56.7" lengthAdjust="spacingAndGlyphs">430m</text>
<text transform="translate(1740.6,437.7) rotate(-90) skewX(4)" font-size="30.6" font-weight="bold" font-style="italic" fill="#000" stroke="#000" stroke-width="2.6" stroke-linejoin="miter" stroke-miterlimit="2.5" textLength="138.1" lengthAdjust="spacingAndGlyphs" letter-spacing="1.2">BERTRIX</text>
<path d="M142.0 208.6 L144.6 229.5" stroke="#0C2C90" stroke-width="4.3" fill="none"/>
<path d="M140.9 226 L142.0 234.6" stroke="#0C2C90" stroke-width="2.5" fill="none"/>
<path d="M186.0 269.2 L189.8 289.5" stroke="#0C2C90" stroke-width="4.6" fill="none"/>
<path d="M190.2 263.6 L191.3 272.7" stroke="#0C2C90" stroke-width="2.5" fill="none"/>
<polygon points="147.3,214.8 178.3,224.4 182.4,254.4 164.6,239.2 152.3,258.0" fill="url(#gB)"/>
<polygon points="156.4,274.8 183.9,271.2 185.4,284.4" fill="#0B2390"/>
<path d="M201.2 394.9 L204.5 411.0" stroke="#2E9B1A" stroke-width="3.6" fill="none"/>
<path d="M200.3 409.5 L201.6 416.1" stroke="#2E9B1A" stroke-width="2.2" fill="none"/>
<path d="M235.0 443.9 L239.2 460.5" stroke="#2E9B1A" stroke-width="3.6" fill="none"/>
<path d="M238.7 439.6 L239.9 447.7" stroke="#2E9B1A" stroke-width="2.2" fill="none"/>
<polygon points="205.4,399.6 229.4,407.6 234.7,455.7 210.7,447.7" fill="url(#gK)"/>
<text transform="translate(232.6,427.8) rotate(-90)" font-size="32.5" font-weight="bold" fill="#fff" textLength="25" lengthAdjust="spacingAndGlyphs">0</text>
<text transform="translate(237.2,454.0) rotate(-90)" font-size="21.5" font-weight="bold" fill="#fff" stroke="#fff" stroke-width="0.5" textLength="26.5" lengthAdjust="spacingAndGlyphs">KM</text>
<path d="M235.9 13.9 L239.9 32.3" stroke="#F58220" stroke-width="4.3" fill="none"/>
<path d="M234.8 30.5 L236.3 38.0" stroke="#F58220" stroke-width="2.6" fill="none"/>
<path d="M276.6 69.6 L281.6 88.5" stroke="#F58220" stroke-width="4.3" fill="none"/>
<path d="M281.0 64.8 L282.5 73.9" stroke="#F58220" stroke-width="2.6" fill="none"/>
<polygon points="240.9,19.3 269.8,28.4 276.2,83.0 247.3,73.9" fill="url(#gO)"/>
<polygon points="271.9,43.9 266.0,47.6 267.6,50.3 262.3,51.9 265.0,54.6 246.5,64.4 255.3,66.4 252.0,68.0 257.0,69.6 254.8,71.7 260.7,75.0 257.5,75.5 271.4,81.4 277.0,83.5 278.5,81.5" fill="#fff"/>
<text transform="translate(266.8,45.3) rotate(-90)" font-size="30.0" font-weight="bold" font-style="italic" fill="#fff" stroke="#fff" stroke-width="0.6">2</text>
<path d="M303.4 185.9 L307.4 204.3" stroke="#F58220" stroke-width="4.3" fill="none"/>
<path d="M302.3 202.5 L303.8 210.0" stroke="#F58220" stroke-width="2.6" fill="none"/>
<path d="M344.1 241.6 L349.1 260.5" stroke="#F58220" stroke-width="4.3" fill="none"/>
<path d="M348.5 236.8 L350.0 245.9" stroke="#F58220" stroke-width="2.6" fill="none"/>
<polygon points="308.4,191.3 337.3,200.4 343.7,255.0 314.8,245.9" fill="url(#gO)"/>
<polygon points="339.4,215.9 333.5,219.6 335.1,222.3 329.8,223.9 332.5,226.6 314.0,236.4 322.8,238.4 319.5,240.0 324.5,241.6 322.3,243.7 328.2,247.0 325.0,247.5 338.9,253.4 344.5,255.5 346.0,253.5" fill="#fff"/>
<text transform="translate(332.6,219.1) rotate(-90)" font-family="'Liberation Mono',monospace" font-size="30.5" font-weight="bold" font-style="italic" fill="#fff" stroke="#fff" stroke-width="1.5">1</text>
<path d="M483.9 411.4 L487.3 427.6" stroke="#F4511E" stroke-width="3.6" fill="none"/>
<path d="M482.9 426.0 L484.2 432.7" stroke="#F4511E" stroke-width="2.2" fill="none"/>
<path d="M518.3 460.6 L522.5 477.4" stroke="#F4511E" stroke-width="3.6" fill="none"/>
<path d="M522.0 456.4 L523.2 464.5" stroke="#F4511E" stroke-width="2.2" fill="none"/>
<polygon points="488.1,416.1 512.5,424.2 517.9,472.5 493.5,464.5" fill="url(#gF)"/>
<ellipse cx="505.6" cy="441.5" rx="3.3" ry="2.9" transform="rotate(3 505.6 441.5)" fill="#fff"/>
<ellipse cx="496.5" cy="446.5" rx="4.2" ry="3.0" transform="rotate(-61 496.5 446.5)" fill="#fff"/>
<ellipse cx="496.1" cy="455.3" rx="3.2" ry="2.8" transform="rotate(246 496.1 455.3)" fill="#fff"/>
<ellipse cx="505.6" cy="461.1" rx="4.6" ry="3.0" transform="rotate(177 505.6 461.1)" fill="#fff"/>
<ellipse cx="514.4" cy="448.3" rx="4.7" ry="2.9" transform="rotate(72 514.4 448.3)" fill="#fff"/>
<ellipse cx="513.5" cy="456.3" rx="3.5" ry="3.0" transform="rotate(121 513.5 456.3)" fill="#fff"/>
<path d="M534.9 73.1 L538.9 91.5" stroke="#F58220" stroke-width="4.3" fill="none"/>
<path d="M533.8 89.7 L535.3 97.2" stroke="#F58220" stroke-width="2.6" fill="none"/>
<path d="M575.6 128.8 L580.6 147.7" stroke="#F58220" stroke-width="4.3" fill="none"/>
<path d="M580.0 124.0 L581.5 133.1" stroke="#F58220" stroke-width="2.6" fill="none"/>
<polygon points="539.9,78.5 568.8,87.6 575.2,142.2 546.3,133.1" fill="url(#gO)"/>
<polygon points="570.9,103.1 565.0,106.8 566.6,109.5 561.3,111.1 564.0,113.8 545.5,123.6 554.3,125.6 551.0,127.2 556.0,128.8 553.8,130.9 559.7,134.2 556.5,134.7 570.4,140.6 576.0,142.7 577.5,140.7" fill="#fff"/>
<text transform="translate(564.1,106.3) rotate(-90)" font-family="'Liberation Mono',monospace" font-size="30.5" font-weight="bold" font-style="italic" fill="#fff" stroke="#fff" stroke-width="1.5">1</text>
<path d="M667.4 102.9 L671.4 121.3" stroke="#F58220" stroke-width="4.3" fill="none"/>
<path d="M666.3 119.5 L667.8 127.0" stroke="#F58220" stroke-width="2.6" fill="none"/>
<path d="M708.1 158.6 L713.1 177.5" stroke="#F58220" stroke-width="4.3" fill="none"/>
<path d="M712.5 153.8 L714.0 162.9" stroke="#F58220" stroke-width="2.6" fill="none"/>
<polygon points="672.4,108.3 701.3,117.4 707.7,172.0 678.8,162.9" fill="url(#gO)"/>
<polygon points="703.4,132.9 697.5,136.6 699.1,139.3 693.8,140.9 696.5,143.6 678.0,153.4 686.8,155.4 683.5,157.0 688.5,158.6 686.3,160.7 692.2,164.0 689.0,164.5 702.9,170.4 708.5,172.5 710.0,170.5" fill="#fff"/>
<text transform="translate(698.3,134.3) rotate(-90)" font-size="30.0" font-weight="bold" font-style="italic" fill="#fff" stroke="#fff" stroke-width="0.6">2</text>
<path d="M736.4 42.9 L740.4 61.3" stroke="#F58220" stroke-width="4.3" fill="none"/>
<path d="M735.3 59.5 L736.8 67.0" stroke="#F58220" stroke-width="2.6" fill="none"/>
<path d="M777.1 98.6 L782.1 117.5" stroke="#F58220" stroke-width="4.3" fill="none"/>
<path d="M781.5 93.8 L783.0 102.9" stroke="#F58220" stroke-width="2.6" fill="none"/>
<polygon points="741.4,48.3 770.3,57.4 776.7,112.0 747.8,102.9" fill="url(#gO)"/>
<polygon points="772.4,72.9 766.5,76.6 768.1,79.3 762.8,80.9 765.5,83.6 747.0,93.4 755.8,95.4 752.5,97.0 757.5,98.6 755.3,100.7 761.2,104.0 758.0,104.5 771.9,110.4 777.5,112.5 779.0,110.5" fill="#fff"/>
<text transform="translate(765.6,76.1) rotate(-90)" font-family="'Liberation Mono',monospace" font-size="30.5" font-weight="bold" font-style="italic" fill="#fff" stroke="#fff" stroke-width="1.5">1</text>
<path d="M884.4 162.4 L888.4 180.6" stroke="#D5082C" stroke-width="4.3" fill="none"/>
<path d="M883.3 178.8 L884.8 186.3" stroke="#D5082C" stroke-width="2.6" fill="none"/>
<path d="M925.1 217.5 L930.1 236.2" stroke="#D5082C" stroke-width="4.3" fill="none"/>
<path d="M929.5 212.8 L931.0 221.8" stroke="#D5082C" stroke-width="2.6" fill="none"/>
<polygon points="889.4,167.7 918.3,176.8 924.7,230.8 895.8,221.8" fill="url(#gR)"/>
<text transform="translate(923.3,223.4) rotate(-90)" font-size="40.5" font-weight="bold" font-style="italic" fill="#fff" stroke="#fff" stroke-width="1.0">R</text>
<path d="M955.4 85.4 L959.4 103.8" stroke="#F58220" stroke-width="4.3" fill="none"/>
<path d="M954.3 102.0 L955.8 109.5" stroke="#F58220" stroke-width="2.6" fill="none"/>
<path d="M996.1 141.1 L1001.1 160.0" stroke="#F58220" stroke-width="4.3" fill="none"/>
<path d="M1000.5 136.3 L1002.0 145.4" stroke="#F58220" stroke-width="2.6" fill="none"/>
<polygon points="960.4,90.8 989.3,99.9 995.7,154.5 966.8,145.4" fill="url(#gO)"/>
<polygon points="991.4,115.4 985.5,119.1 987.1,121.8 981.8,123.4 984.5,126.1 966.0,135.9 974.8,137.9 971.5,139.5 976.5,141.1 974.3,143.2 980.2,146.5 977.0,147.0 990.9,152.9 996.5,155.0 998.0,153.0" fill="#fff"/>
<text transform="translate(986.3,116.8) rotate(-90)" font-size="30.0" font-weight="bold" font-style="italic" fill="#fff" stroke="#fff" stroke-width="0.6">2</text>
<path d="M1042.7 181.6 L1044.4 196.2" stroke="#101213" stroke-width="3.4" fill="none"/>
<path d="M1041.4 193.3 L1042.4 200.4" stroke="#101213" stroke-width="1.8" fill="none"/>
<path d="M1073.5 223.8 L1076.9 239.3" stroke="#101213" stroke-width="3.4" fill="none"/>
<path d="M1077.1 220.9 L1078.0 227.1" stroke="#101213" stroke-width="1.8" fill="none"/>
<polygon points="1047.7,197.7 1069.7,204.8 1073.2,235.9 1051.2,228.7" fill="#fff"/>
<polygon points="1052.1,199.1 1056.5,200.5 1057.1,205.7 1052.7,204.3" fill="#111"/>
<polygon points="1060.9,202.0 1065.3,203.4 1065.9,208.6 1061.5,207.1" fill="#111"/>
<polygon points="1048.3,202.8 1052.7,204.3 1053.3,209.4 1048.9,208.0" fill="#111"/>
<polygon points="1057.1,205.7 1061.5,207.1 1062.1,212.3 1057.7,210.9" fill="#111"/>
<polygon points="1065.9,208.6 1070.3,210.0 1070.9,215.2 1066.5,213.8" fill="#111"/>
<polygon points="1053.3,209.4 1057.7,210.9 1058.3,216.1 1053.9,214.6" fill="#111"/>
<polygon points="1062.1,212.3 1066.5,213.8 1067.1,218.9 1062.7,217.5" fill="#111"/>
<polygon points="1049.5,213.2 1053.9,214.6 1054.5,219.8 1050.1,218.4" fill="#111"/>
<polygon points="1058.3,216.1 1062.7,217.5 1063.3,222.7 1058.9,221.2" fill="#111"/>
<polygon points="1067.1,218.9 1071.5,220.4 1072.0,225.6 1067.7,224.1" fill="#111"/>
<polygon points="1054.5,219.8 1058.9,221.2 1059.4,226.4 1055.1,225.0" fill="#111"/>
<polygon points="1063.3,222.7 1067.7,224.1 1068.2,229.3 1063.8,227.9" fill="#111"/>
<polygon points="1050.7,223.5 1055.1,225.0 1055.6,230.2 1051.2,228.7" fill="#111"/>
<polygon points="1059.4,226.4 1063.8,227.9 1064.4,233.0 1060.0,231.6" fill="#111"/>
<polygon points="1068.2,229.3 1072.6,230.7 1073.2,235.9 1068.8,234.5" fill="#111"/>
<polygon points="1046.4,185.6 1068.3,192.8 1069.8,205.7 1048.9,207.6" fill="url(#gD)"/>
<path d="M1135.4 155.9 L1139.4 174.3" stroke="#F58220" stroke-width="4.3" fill="none"/>
<path d="M1134.3 172.5 L1135.8 180.0" stroke="#F58220" stroke-width="2.6" fill="none"/>
<path d="M1176.1 211.6 L1181.1 230.5" stroke="#F58220" stroke-width="4.3" fill="none"/>
<path d="M1180.5 206.8 L1182.0 215.9" stroke="#F58220" stroke-width="2.6" fill="none"/>
<polygon points="1140.4,161.3 1169.3,170.4 1175.7,225.0 1146.8,215.9" fill="url(#gO)"/>
<polygon points="1171.4,185.9 1165.5,189.6 1167.1,192.3 1161.8,193.9 1164.5,196.6 1146.0,206.4 1154.8,208.4 1151.5,210.0 1156.5,211.6 1154.3,213.7 1160.2,217.0 1157.0,217.5 1170.9,223.4 1176.5,225.5 1178.0,223.5" fill="#fff"/>
<text transform="translate(1164.6,189.1) rotate(-90)" font-family="'Liberation Mono',monospace" font-size="30.5" font-weight="bold" font-style="italic" fill="#fff" stroke="#fff" stroke-width="1.5">1</text>
<path d="M1212.9 419.6 L1216.2 436.1" stroke="#F4511E" stroke-width="3.6" fill="none"/>
<path d="M1211.9 434.5 L1213.2 441.2" stroke="#F4511E" stroke-width="2.2" fill="none"/>
<path d="M1247.0 469.7 L1251.2 486.7" stroke="#F4511E" stroke-width="3.6" fill="none"/>
<path d="M1250.7 465.4 L1252.0 473.6" stroke="#F4511E" stroke-width="2.2" fill="none"/>
<polygon points="1217.1,424.4 1241.3,432.6 1246.7,481.8 1222.4,473.6" fill="url(#gF)"/>
<ellipse cx="1234.5" cy="450.4" rx="3.3" ry="2.9" transform="rotate(3 1234.5 450.4)" fill="#fff"/>
<ellipse cx="1225.4" cy="455.4" rx="4.2" ry="3.0" transform="rotate(-61 1225.4 455.4)" fill="#fff"/>
<ellipse cx="1225.0" cy="464.1" rx="3.2" ry="2.8" transform="rotate(246 1225.0 464.1)" fill="#fff"/>
<ellipse cx="1234.5" cy="469.9" rx="4.5" ry="3.0" transform="rotate(177 1234.5 469.9)" fill="#fff"/>
<ellipse cx="1243.2" cy="457.2" rx="4.7" ry="2.9" transform="rotate(72 1243.2 457.2)" fill="#fff"/>
<ellipse cx="1242.3" cy="465.2" rx="3.5" ry="3.0" transform="rotate(121 1242.3 465.2)" fill="#fff"/>
<path d="M1253.3 280.9 L1257.2 299.7" stroke="#7A2BE8" stroke-width="4.2" fill="none"/>
<path d="M1252.2 297.8 L1253.7 305.5" stroke="#7A2BE8" stroke-width="2.5" fill="none"/>
<path d="M1292.8 337.7 L1297.6 357.0" stroke="#7A2BE8" stroke-width="4.2" fill="none"/>
<path d="M1297.0 332.8 L1298.5 342.1" stroke="#7A2BE8" stroke-width="2.5" fill="none"/>
<polygon points="1258.1,286.4 1286.2,295.7 1292.4,351.4 1264.4,342.1" fill="url(#gS)"/>
<text transform="translate(1289.0,342.5) rotate(-90)" font-size="37.8" font-weight="bold" font-style="italic" fill="#fff" stroke="#fff" stroke-width="1.0">S</text>
<path d="M1327.8 116.4 L1329.5 131.0" stroke="#101213" stroke-width="3.5" fill="none"/>
<path d="M1326.5 128.1 L1327.5 135.2" stroke="#101213" stroke-width="1.8" fill="none"/>
<path d="M1359.0 158.6 L1362.4 174.1" stroke="#101213" stroke-width="3.5" fill="none"/>
<path d="M1362.6 155.7 L1363.5 161.9" stroke="#101213" stroke-width="1.8" fill="none"/>
<polygon points="1332.8,132.5 1355.1,139.6 1358.6,170.7 1336.4,163.5" fill="#fff"/>
<polygon points="1337.3,133.9 1341.7,135.3 1342.3,140.5 1337.9,139.1" fill="#111"/>
<polygon points="1346.2,136.8 1350.7,138.2 1351.2,143.4 1346.8,141.9" fill="#111"/>
<polygon points="1333.4,137.6 1337.9,139.1 1338.5,144.2 1334.0,142.8" fill="#111"/>
<polygon points="1342.3,140.5 1346.8,141.9 1347.4,147.1 1342.9,145.7" fill="#111"/>
<polygon points="1351.2,143.4 1355.7,144.8 1356.3,150.0 1351.8,148.6" fill="#111"/>
<polygon points="1338.5,144.2 1342.9,145.7 1343.5,150.9 1339.1,149.4" fill="#111"/>
<polygon points="1347.4,147.1 1351.8,148.6 1352.4,153.7 1348.0,152.3" fill="#111"/>
<polygon points="1334.6,148.0 1339.1,149.4 1339.7,154.6 1335.2,153.2" fill="#111"/>
<polygon points="1343.5,150.9 1348.0,152.3 1348.6,157.5 1344.1,156.0" fill="#111"/>
<polygon points="1352.4,153.7 1356.9,155.2 1357.5,160.4 1353.0,158.9" fill="#111"/>
<polygon points="1339.7,154.6 1344.1,156.0 1344.7,161.2 1340.3,159.8" fill="#111"/>
<polygon points="1348.6,157.5 1353.0,158.9 1353.6,164.1 1349.2,162.7" fill="#111"/>
<polygon points="1335.8,158.3 1340.3,159.8 1340.8,165.0 1336.4,163.5" fill="#111"/>
<polygon points="1344.7,161.2 1349.2,162.7 1349.7,167.8 1345.3,166.4" fill="#111"/>
<polygon points="1353.6,164.1 1358.1,165.5 1358.6,170.7 1354.2,169.3" fill="#111"/>
<polygon points="1331.5,120.4 1353.7,127.6 1355.2,140.5 1334.0,142.4" fill="url(#gD)"/>
<path d="M1371.0 250.2 L1374.4 266.7" stroke="#9C3A0C" stroke-width="3.7" fill="none"/>
<path d="M1370.0 265.1 L1371.3 271.9" stroke="#9C3A0C" stroke-width="2.3" fill="none"/>
<path d="M1406.4 300.3 L1410.7 317.3" stroke="#9C3A0C" stroke-width="3.7" fill="none"/>
<path d="M1410.2 296.0 L1411.5 304.2" stroke="#9C3A0C" stroke-width="2.3" fill="none"/>
<polygon points="1375.3,255.0 1400.5,263.2 1406.0,312.4 1380.9,304.2" fill="url(#gC)"/>
<path d="M1393.5 281.1 A11.0 11.0 0 0 1 1393.5 302.7" fill="none" stroke="#fff" stroke-width="4.6"/>
<path d="M1389.7 281.1 A11.0 11.0 0 0 0 1389.7 302.7" fill="none" stroke="#fff" stroke-width="4.6"/>
<path d="M1402.2 87.8 L1406.0 106.2" stroke="#7A2BE8" stroke-width="4.1" fill="none"/>
<path d="M1401.2 104.4 L1402.6 111.9" stroke="#7A2BE8" stroke-width="2.5" fill="none"/>
<path d="M1440.9 143.5 L1445.6 162.4" stroke="#7A2BE8" stroke-width="4.1" fill="none"/>
<path d="M1445.1 138.7 L1446.5 147.8" stroke="#7A2BE8" stroke-width="2.5" fill="none"/>
<polygon points="1407.0,93.2 1434.4,102.3 1440.5,156.9 1413.1,147.8" fill="url(#gS)"/>
<text transform="translate(1437.2,148.2) rotate(-90)" font-size="37.0" font-weight="bold" font-style="italic" fill="#fff" stroke="#fff" stroke-width="1.0">S</text>
<path d="M1453.7 488.0 L1457.0 504.5" stroke="#F4511E" stroke-width="3.6" fill="none"/>
<path d="M1452.7 502.9 L1454.0 509.7" stroke="#F4511E" stroke-width="2.2" fill="none"/>
<path d="M1487.8 538.1 L1492.0 555.1" stroke="#F4511E" stroke-width="3.6" fill="none"/>
<path d="M1491.5 533.8 L1492.8 542.0" stroke="#F4511E" stroke-width="2.2" fill="none"/>
<polygon points="1457.9,492.8 1482.1,501.0 1487.5,550.1 1463.2,542.0" fill="url(#gF)"/>
<ellipse cx="1475.3" cy="518.8" rx="3.3" ry="2.9" transform="rotate(3 1475.3 518.8)" fill="#fff"/>
<ellipse cx="1466.2" cy="523.8" rx="4.2" ry="3.0" transform="rotate(-61 1466.2 523.8)" fill="#fff"/>
<ellipse cx="1465.8" cy="532.5" rx="3.2" ry="2.8" transform="rotate(246 1465.8 532.5)" fill="#fff"/>
<ellipse cx="1475.3" cy="538.3" rx="4.5" ry="3.0" transform="rotate(177 1475.3 538.3)" fill="#fff"/>
<ellipse cx="1484.0" cy="525.6" rx="4.7" ry="2.9" transform="rotate(72 1484.0 525.6)" fill="#fff"/>
<ellipse cx="1483.1" cy="533.6" rx="3.5" ry="3.0" transform="rotate(121 1483.1 533.6)" fill="#fff"/>
<path d="M1470.9 10.4 L1474.9 28.8" stroke="#F58220" stroke-width="4.3" fill="none"/>
<path d="M1469.8 27.0 L1471.3 34.5" stroke="#F58220" stroke-width="2.6" fill="none"/>
<path d="M1511.6 66.1 L1516.6 85.0" stroke="#F58220" stroke-width="4.3" fill="none"/>
<path d="M1516.0 61.3 L1517.5 70.4" stroke="#F58220" stroke-width="2.6" fill="none"/>
<polygon points="1475.9,15.8 1504.8,24.9 1511.2,79.5 1482.3,70.4" fill="url(#gO)"/>
<polygon points="1506.9,40.4 1501.0,44.1 1502.6,46.8 1497.3,48.4 1500.0,51.1 1481.5,60.9 1490.3,62.9 1487.0,64.5 1492.0,66.1 1489.8,68.2 1495.7,71.5 1492.5,72.0 1506.4,77.9 1512.0,80.0 1513.5,78.0" fill="#fff"/>
<text transform="translate(1500.1,43.6) rotate(-90)" font-family="'Liberation Mono',monospace" font-size="30.5" font-weight="bold" font-style="italic" fill="#fff" stroke="#fff" stroke-width="1.5">1</text>
<path d="M1533.2 172.6 L1534.9 187.2" stroke="#101213" stroke-width="3.4" fill="none"/>
<path d="M1531.9 184.3 L1532.9 191.4" stroke="#101213" stroke-width="1.8" fill="none"/>
<path d="M1564.0 214.8 L1567.4 230.3" stroke="#101213" stroke-width="3.4" fill="none"/>
<path d="M1567.6 211.9 L1568.5 218.1" stroke="#101213" stroke-width="1.8" fill="none"/>
<polygon points="1538.2,188.7 1560.2,195.8 1563.7,226.9 1541.7,219.7" fill="#fff"/>
<polygon points="1542.6,190.1 1547.0,191.5 1547.6,196.7 1543.2,195.3" fill="#111"/>
<polygon points="1551.4,193.0 1555.8,194.4 1556.4,199.6 1552.0,198.1" fill="#111"/>
<polygon points="1538.8,193.8 1543.2,195.3 1543.8,200.4 1539.4,199.0" fill="#111"/>
<polygon points="1547.6,196.7 1552.0,198.1 1552.6,203.3 1548.2,201.9" fill="#111"/>
<polygon points="1556.4,199.6 1560.8,201.0 1561.4,206.2 1557.0,204.8" fill="#111"/>
<polygon points="1543.8,200.4 1548.2,201.9 1548.8,207.1 1544.4,205.6" fill="#111"/>
<polygon points="1552.6,203.3 1557.0,204.8 1557.6,209.9 1553.2,208.5" fill="#111"/>
<polygon points="1540.0,204.2 1544.4,205.6 1545.0,210.8 1540.6,209.4" fill="#111"/>
<polygon points="1548.8,207.1 1553.2,208.5 1553.8,213.7 1549.4,212.2" fill="#111"/>
<polygon points="1557.6,209.9 1562.0,211.4 1562.5,216.6 1558.2,215.1" fill="#111"/>
<polygon points="1545.0,210.8 1549.4,212.2 1549.9,217.4 1545.6,216.0" fill="#111"/>
<polygon points="1553.8,213.7 1558.2,215.1 1558.7,220.3 1554.3,218.9" fill="#111"/>
<polygon points="1541.2,214.5 1545.6,216.0 1546.1,221.2 1541.7,219.7" fill="#111"/>
<polygon points="1549.9,217.4 1554.3,218.9 1554.9,224.0 1550.5,222.6" fill="#111"/>
<polygon points="1558.7,220.3 1563.1,221.7 1563.7,226.9 1559.3,225.5" fill="#111"/>
<polygon points="1536.9,176.6 1558.8,183.8 1560.3,196.7 1539.4,198.6" fill="url(#gD)"/>
<path d="M1597.8 93.4 L1601.7 111.8" stroke="#7A2BE8" stroke-width="4.2" fill="none"/>
<path d="M1596.7 110.0 L1598.2 117.5" stroke="#7A2BE8" stroke-width="2.5" fill="none"/>
<path d="M1637.3 149.1 L1642.1 168.0" stroke="#7A2BE8" stroke-width="4.2" fill="none"/>
<path d="M1641.5 144.3 L1643.0 153.4" stroke="#7A2BE8" stroke-width="2.5" fill="none"/>
<polygon points="1602.6,98.8 1630.7,107.9 1636.9,162.5 1608.9,153.4" fill="url(#gS)"/>
<text transform="translate(1633.5,153.8) rotate(-90)" font-size="37.8" font-weight="bold" font-style="italic" fill="#fff" stroke="#fff" stroke-width="1.0">S</text>
<circle cx="1649.3" cy="211" r="6.2" fill="#4328D8"/>
<path d="M1659.9 201.1 A14.5 14.5 0 0 1 1659.9 220.9" fill="none" stroke="#4328D8" stroke-width="3.3" stroke-linecap="round"/>
<path d="M1664.1 197.2 A20.3 20.3 0 0 1 1664.1 224.8" fill="none" stroke="#4328D8" stroke-width="3.3" stroke-linecap="round"/>
<path d="M1668.5 193.1 A26.3 26.3 0 0 1 1668.5 228.9" fill="none" stroke="#4328D8" stroke-width="3.3" stroke-linecap="round"/>
<path d="M1679.5 429.4 L1682.8 445.9" stroke="#F4511E" stroke-width="3.6" fill="none"/>
<path d="M1678.5 444.3 L1679.8 451.1" stroke="#F4511E" stroke-width="2.2" fill="none"/>
<path d="M1713.6 479.5 L1717.8 496.5" stroke="#F4511E" stroke-width="3.6" fill="none"/>
<path d="M1717.3 475.2 L1718.6 483.4" stroke="#F4511E" stroke-width="2.2" fill="none"/>
<polygon points="1683.7,434.2 1707.9,442.4 1713.3,491.6 1689.0,483.4" fill="url(#gF)"/>
<ellipse cx="1701.1" cy="460.2" rx="3.3" ry="2.9" transform="rotate(3 1701.1 460.2)" fill="#fff"/>
<ellipse cx="1692.0" cy="465.2" rx="4.2" ry="3.0" transform="rotate(-61 1692.0 465.2)" fill="#fff"/>
<ellipse cx="1691.6" cy="473.9" rx="3.2" ry="2.8" transform="rotate(246 1691.6 473.9)" fill="#fff"/>
<ellipse cx="1701.1" cy="479.7" rx="4.5" ry="3.0" transform="rotate(177 1701.1 479.7)" fill="#fff"/>
<ellipse cx="1709.8" cy="467.0" rx="4.7" ry="2.9" transform="rotate(72 1709.8 467.0)" fill="#fff"/>
<ellipse cx="1708.9" cy="475.0" rx="3.5" ry="3.0" transform="rotate(121 1708.9 475.0)" fill="#fff"/>
<path d="M1701.4 208.9 L1703.8 229.1" stroke="#101213" stroke-width="4.9" fill="none"/>
<path d="M1699.6 225.2 L1701.0 234.9" stroke="#101213" stroke-width="2.6" fill="none"/>
<path d="M1745.1 267.6 L1750.0 289.2" stroke="#101213" stroke-width="4.9" fill="none"/>
<path d="M1750.2 263.6 L1751.5 272.2" stroke="#101213" stroke-width="2.6" fill="none"/>
<polygon points="1708.5,231.2 1739.7,241.2 1744.7,284.4 1713.5,274.4" fill="#fff"/>
<polygon points="1714.7,233.2 1721.0,235.2 1721.8,242.4 1715.6,240.4" fill="#111"/>
<polygon points="1727.2,237.2 1733.5,239.2 1734.3,246.4 1728.1,244.4" fill="#111"/>
<polygon points="1709.3,238.4 1715.6,240.4 1716.4,247.6 1710.2,245.6" fill="#111"/>
<polygon points="1721.8,242.4 1728.1,244.4 1728.9,251.6 1722.7,249.6" fill="#111"/>
<polygon points="1734.3,246.4 1740.5,248.4 1741.4,255.6 1735.1,253.6" fill="#111"/>
<polygon points="1716.4,247.6 1722.7,249.6 1723.5,256.8 1717.2,254.8" fill="#111"/>
<polygon points="1728.9,251.6 1735.1,253.6 1736.0,260.8 1729.7,258.8" fill="#111"/>
<polygon points="1711.0,252.8 1717.2,254.8 1718.1,262.0 1711.8,260.0" fill="#111"/>
<polygon points="1723.5,256.8 1729.7,258.8 1730.6,266.0 1724.3,264.0" fill="#111"/>
<polygon points="1736.0,260.8 1742.2,262.8 1743.0,270.0 1736.8,268.0" fill="#111"/>
<polygon points="1718.1,262.0 1724.3,264.0 1725.1,271.2 1718.9,269.2" fill="#111"/>
<polygon points="1730.6,266.0 1736.8,268.0 1737.6,275.2 1731.4,273.2" fill="#111"/>
<polygon points="1712.7,267.2 1718.9,269.2 1719.7,276.4 1713.5,274.4" fill="#111"/>
<polygon points="1725.1,271.2 1731.4,273.2 1732.2,280.4 1726.0,278.4" fill="#111"/>
<polygon points="1737.6,275.2 1743.9,277.2 1744.7,284.4 1738.5,282.4" fill="#111"/>
<polygon points="1706.6,214.4 1737.8,224.4 1739.9,242.4 1710.1,245.0" fill="url(#gD)"/>
</svg></body></html>
